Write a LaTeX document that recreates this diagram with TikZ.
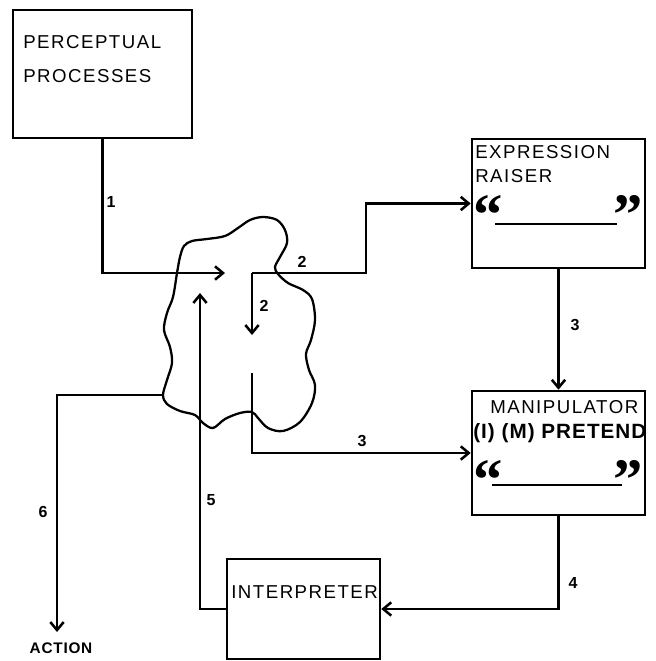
\documentclass[tikz,border=0pt]{standalone}
\usepackage{fontspec}
\setmainfont{Liberation Sans}
\newfontfamily\boxfont[LetterSpace=8]{Liberation Sans}
\newfontfamily\heavyfont[LetterSpace=5]{Liberation Sans}
\newfontfamily\quotefont{Liberation Serif}
\usetikzlibrary{arrows.meta,positioning}

\begin{document}
\begin{tikzpicture}[x=0.75pt, y=-0.75pt, line width=1.9pt,
    >={Straight Barb[length=6pt, width=10pt]},
    box/.style n args={2}{draw, rectangle, line width=1.9pt, inner sep=0pt,
        minimum width=#1*0.75pt, minimum height=#2*0.75pt},
    boxtext/.style={anchor=base west, inner sep=0pt, font=\fontsize{14}{16}\boxfont},
    boldtext/.style={anchor=base west, inner sep=0pt, font=\fontsize{15.5}{16}\heavyfont\bfseries},
    quote/.style={inner sep=0pt, font=\fontsize{44}{44}\quotefont\bfseries},
    num/.style={inner sep=0pt, font=\fontsize{12}{13}\selectfont\bfseries}]

    \useasboundingbox (0,0) rectangle (656,661);

    % --- boxes ---
    \node[box={179}{128}] (percep) at (102.5,74) {};
    \node[boxtext] (percepA) at (22,48) {PERCEPTUAL};
    \node[boxtext] (percepB) at (22,82) {PROCESSES};

    \node[box={173}{129}] (raiser) at (558.5,203.5) {};
    \node[boxtext] (raiserA) at (474,158) {EXPRESSION};
    \node[boxtext] (raiserB) at (474,182) {RAISER};
    \node[quote, anchor=north west] (raiserQL) at (472,194) {“};
    \node[quote, anchor=north east] (raiserQR) at (644,194) {”};
    \draw[line width=1.5pt] (495,224) -- (617,224);

    \node[box={173}{124}] (manip) at (558.5,453) {};
    \node[boxtext] (manipA) at (489,413) {MANIPULATOR};
    \node[boldtext] (manipB) at (472,438) {(I) (M) PRETEND};
    \node[quote, anchor=north west] (manipQL) at (472,459) {“};
    \node[quote, anchor=north east] (manipQR) at (644,459) {”};
    \draw[line width=1.5pt] (492,485) -- (622,485);

    \node[box={153}{100}] (interp) at (303.5,609) {};
    \node[boxtext] (interpA) at (230,598) {INTERPRETER};

    % --- the cloud ---
    \draw[line width=1.7pt] plot[smooth cycle, tension=0.55] coordinates {
        (177,273) (180,257) (184,246) (192,241) (207,239) (225,236)
        (238,228) (250,220) (263,217) (277,220) (285,230) (287,243)
        (280,257) (275,267) (278,274) (288,283) (303,290) (312,299)
        (315,320) (311,340) (306,354) (309,370) (315,385) (312,403)
        (300,422) (283,431) (268,428) (258,418) (252,412) (240,413)
        (225,419) (213,428) (203,423) (195,415) (180,411) (167,404)
        (163,395) (167,380) (172,363) (170,347) (164,330) (167,313)
        (173,297)};

    % --- connectors ---
    \coordinate (in1)   at (225,273);
    \coordinate (fork2) at (252,273);
    \coordinate (turn2) at (366,273);
    \coordinate (down2) at (252,335);
    \coordinate (from3) at (252,373);
    \coordinate (in5)   at (200,293);
    \coordinate (out6)  at (163,395);
    \coordinate (tip6)  at (57,632);

    \draw[->] (percep.south) |- (in1);
    \draw[->] (fork2) -- (turn2) |- (raiser.west);
    \draw[->] (fork2) -- (down2);
    \draw[->] (raiser.south) -- (manip.north);
    \draw[->] (from3) |- (manip.west);
    \draw[->] (manip.south) |- (interp.east);
    \draw[->] (interp.west) -| (in5);
    \draw[->] (out6) -| (tip6);

    % --- numbers ---
    \node[num] (n1)  at (111,202) {1};
    \node[num] (n2a) at (302,262) {2};
    \node[num] (n2b) at (264,306) {2};
    \node[num] (n3a) at (575,325) {3};
    \node[num] (n3b) at (362,441) {3};
    \node[num] (n4)  at (573,583) {4};
    \node[num] (n5)  at (211,500) {5};
    \node[num] (n6)  at (43,512) {6};

    \node[num, font=\fontsize{11.5}{12}\heavyfont\bfseries] (action) at (61,648) {ACTION};

\end{tikzpicture}
\end{document}
